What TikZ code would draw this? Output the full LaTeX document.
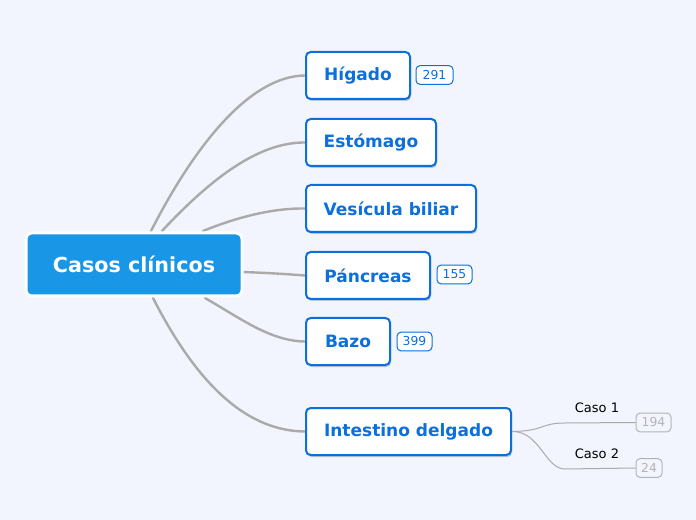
\documentclass[tikz,border=0pt]{standalone}
\usepackage{fontspec}
\setmainfont{DejaVu Sans}
\usetikzlibrary{shadows,backgrounds}
\definecolor{bgc}{HTML}{F2F5FD}
\definecolor{rootc}{HTML}{1A96E6}
\definecolor{bluec}{HTML}{0B6FDC}
\definecolor{linec}{HTML}{AAAAAA}
\definecolor{grayb}{HTML}{B4B4B4}
\tikzset{
  rootbox/.style={draw=white, line width=2.25pt, fill=rootc, rounded corners=4.5pt,
    text=white, font=\bfseries\fontsize{15.5pt}{18pt}\selectfont,
    minimum width=162pt, minimum height=47.25pt, inner sep=0pt},
  childbox/.style={draw=bluec, line width=1.5pt, fill=white, rounded corners=3.5pt,
    text=bluec, font=\bfseries\fontsize{12.75pt}{15pt}\selectfont,
    minimum height=35.25pt, inner sep=0pt,
    drop shadow={shadow xshift=0.8pt, shadow yshift=-1.5pt, opacity=0.2, fill=black}},
  badge/.style={draw=bluec, line width=0.75pt, fill=white, rounded corners=3pt,
    text=bluec, font=\fontsize{9.25pt}{10pt}\selectfont,
    minimum height=14pt, inner sep=0pt},
  graybadge/.style={badge, draw=grayb, text=grayb, fill=bgc},
  conn/.style={draw=linec, line width=1.8pt, line cap=round},
  subconn/.style={draw=linec, line width=0.75pt},
  caso/.style={font=\fontsize{9.75pt}{11pt}\selectfont, text=black, inner sep=0pt}
}
\begin{document}
\begin{tikzpicture}[x=0.75pt, y=-0.75pt]
\useasboundingbox (0,0) rectangle (696,520);

\coordinate (s1) at (151,231);
\coordinate (s2) at (162,231);
\coordinate (s3) at (203,231);
\coordinate (s4) at (243,272);
\coordinate (s5) at (205,298);
\coordinate (s6) at (153,298);

\node[childbox, minimum width=78pt] (hig) at (358,75.5) {Hígado};
\node[childbox, minimum width=97.5pt] (est) at (371,142.5) {Estómago};
\node[childbox, minimum width=127.5pt] (ves) at (391,208.5) {Vesícula biliar};
\node[childbox, minimum width=93pt] (pan) at (368,275.5) {Páncreas};
\node[childbox, minimum width=63pt] (baz) at (348,341.5) {Bazo};
\node[childbox, minimum width=153.75pt] (int) at (408.5,431.5) {Intestino delgado};

\node[rootbox] (root) at (134,264.5) {Casos clínicos};

\begin{scope}[on background layer]
\fill[bgc] (0,0) rectangle (696,520);
\draw[conn] (s1) .. controls (195,145) and (250,76) .. (hig.west);
\draw[conn] (s2) .. controls (205,185) and (255,142) .. (est.west);
\draw[conn] (s3) .. controls (240,216) and (275,208) .. (ves.west);
\draw[conn] (s4) .. controls (270,273) and (285,274) .. (pan.west);
\draw[conn] (s5) .. controls (240,318) and (270,341) .. (baz.west);
\draw[conn] (s6) .. controls (200,390) and (250,431) .. (int.west);
\end{scope}

\node[badge, minimum width=27.75pt] (b1) at (434.5,75) {291};
\node[badge, minimum width=26.25pt] (b4) at (454.5,274.5) {155};
\node[badge, minimum width=26.25pt] (b5) at (414.5,341.5) {399};

\node[graybadge, minimum width=26.25pt] (g1) at (653.5,422.5) {194};
\node[graybadge, minimum width=19.5pt] (g2) at (649,468) {24};

\coordinate (k1) at (565,423);
\coordinate (k2) at (565,469);
\draw[subconn] (int.east) .. controls (545,431) and (540,423) .. (k1) -- (g1.west);
\draw[subconn] (int.east) .. controls (540,431) and (545,469) .. (k2) -- (g2.west);

\node[caso] (c1) at (597,408) {Caso 1};
\node[caso] (c2) at (597,454) {Caso 2};
\end{tikzpicture}
\end{document}
